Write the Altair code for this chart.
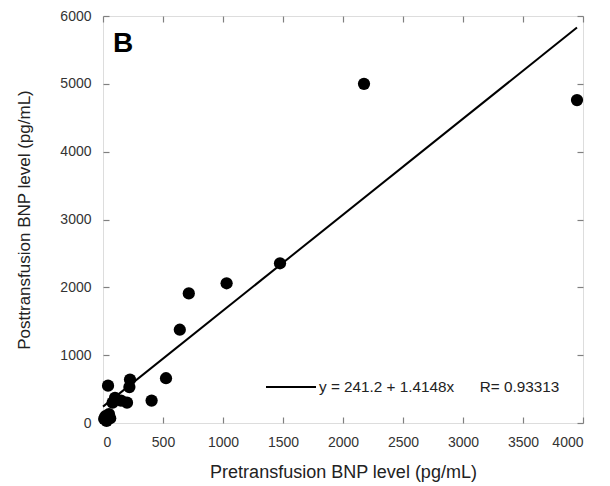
import altair as alt
import pandas as pd

pre = [3950, 2175, 1475, 1030, 715, 640, 525, 405, 225, 220, 200, 150, 100, 80, 42, 50, 20, 10, 60, 30]
post = [4760, 5000, 2355, 2060, 1910, 1375, 660, 330, 640, 530, 300, 330, 370, 300, 550, 130, 100, 60, 70, 30]

intercept = 241.2
slope = 1.4148
eq_label = "y = 241.2 + 1.4148x" + "\u00a0" * 6 + "R= 0.93313"
fit_x = [0, 3950]

x_ticks = [0, 500, 1000, 1500, 2000, 2500, 3000, 3500, 4000]
y_ticks = [0, 1000, 2000, 3000, 4000, 5000, 6000]

pts = pd.DataFrame({"pre": pre, "post": post})
fit = pd.DataFrame({"pre": fit_x, "post": [intercept + slope * v for v in fit_x], "lab": eq_label})

W, H = 480, 407
FONT = "Liberation Sans"
GRAY = "#808080"
TXT = "#333333"

xs = alt.Scale(domain=[0, 4000], nice=False, zero=False)
ys = alt.Scale(domain=[0, 6000], nice=False, zero=False)

xaxis = alt.Axis(values=x_ticks, format="d", orient="bottom", offset=-6, tickSize=6, domain=False, grid=False,
                 tickColor=GRAY, tickWidth=1.2, labelPadding=12, labelFontSize=14, labelColor=TXT,
                 labelFont=FONT, title="Pretransfusion BNP level (pg/mL)", titleFont=FONT,
                 titleFontSize=18, titleFontWeight="normal", titleColor="#222222", titlePadding=14)
yaxis = alt.Axis(values=y_ticks, format="d", orient="left", offset=-6, tickSize=6, domain=False, grid=False,
                 tickColor=GRAY, tickWidth=1.2, labelPadding=12, labelFontSize=14, labelColor=TXT,
                 labelFont=FONT, title="Posttransfusion BNP level (pg/mL)", titleFont=FONT,
                 titleFontSize=17, titleFontWeight="normal", titleColor="#222222", titlePadding=26)

points = alt.Chart(pts).mark_circle(size=150, color="black", opacity=1).encode(
    x=alt.X("pre:Q", scale=xs, axis=xaxis),
    y=alt.Y("post:Q", scale=ys, axis=yaxis),
)

line = alt.Chart(fit).mark_line(strokeWidth=2).encode(
    x=alt.X("pre:Q", scale=xs, axis=None),
    y=alt.Y("post:Q", scale=ys, axis=None),
    color=alt.Color("lab:N", scale=alt.Scale(range=["black"]),
                    legend=alt.Legend(title=None, orient="none", legendX=162, legendY=345,
                                      symbolType="stroke", symbolSize=2500, symbolStrokeWidth=2,
                                      labelFontSize=15.3, labelFont=FONT, labelColor="#222222",
                                      labelLimit=400, padding=0, labelOffset=2)),
)

top_ticks = alt.Chart(pts).mark_point(opacity=0).encode(
    x=alt.X("pre:Q", scale=xs, axis=alt.Axis(values=x_ticks, orient="top", offset=-6, tickSize=6,
                                             domain=False, labels=False, grid=False, title=None,
                                             tickColor=GRAY, tickWidth=1.2)),
    y=alt.Y("post:Q", scale=ys, axis=alt.Axis(values=y_ticks, orient="right", offset=-6, tickSize=6,
                                              domain=False, labels=False, grid=False, title=None,
                                              tickColor=GRAY, tickWidth=1.2)),
)

label_b = alt.Chart(pd.DataFrame({"t": ["B"]})).mark_text(
    text="B", font=FONT, fontSize=28, fontWeight="bold", align="left", baseline="alphabetic", color="black"
).encode(x=alt.value(10), y=alt.value(36))

chart = alt.layer(points, line, label_b, top_ticks).resolve_scale(
    x="independent", y="independent"
).properties(
    width=W, height=H,
    autosize=alt.AutoSizeParams(type="none"),
    padding={"left": 95, "top": 8, "right": 12, "bottom": 62},
).configure_view(stroke=GRAY, strokeWidth=1.5).configure(background="white")

chart.save("out.html", embed_options={"renderer": "svg", "actions": False})
